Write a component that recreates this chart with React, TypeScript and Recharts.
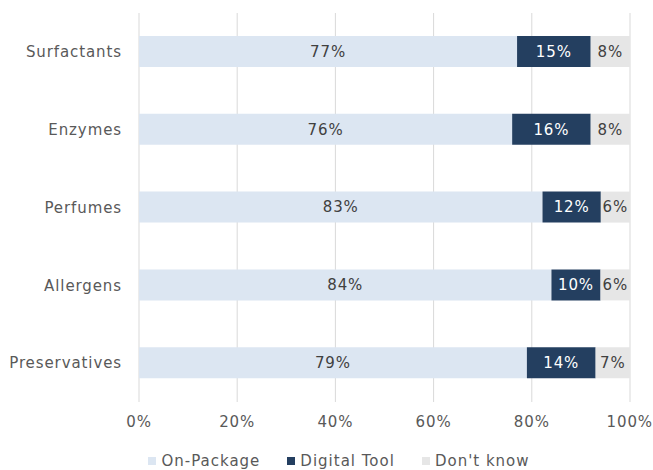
import React from "react";
import {
  Bar,
  BarChart,
  CartesianGrid,
  LabelList,
  Legend,
  XAxis,
  YAxis,
} from "recharts";

const categories = ["Surfactants", "Enzymes", "Perfumes", "Allergens", "Preservatives"];
const onPackage = [77, 76, 83, 84, 79];
const digitalTool = [15, 16, 12, 10, 14];
const dontKnow = [8, 8, 6, 6, 7];
const xTicks = [0, 0.2, 0.4, 0.6, 0.8, 1];

const COLORS = {
  onPackage: "#DCE6F2",
  digital: "#243F60",
  dontKnow: "#E6E6E6",
  grid: "#D9D9D9",
  text: "#595959",
};

const FONT = "'DejaVu Sans', Verdana, sans-serif";

// 100% stacked, like the source: each row is normalised by stackOffset="expand"
const rows = categories.map((name, i) => ({
  name,
  onPackage: onPackage[i],
  digital: digitalTool[i],
  dontKnow: dontKnow[i],
}));

const legendItems = [
  { label: "On-Package", color: COLORS.onPackage },
  { label: "Digital Tool", color: COLORS.digital },
  { label: "Don't know", color: COLORS.dontKnow },
];

function LegendContent() {
  return (
    <div
      style={{
        display: "flex",
        justifyContent: "center",
        gap: 27,
        fontFamily: FONT,
        fontSize: 15,
        letterSpacing: 1,
        color: COLORS.text,
        height: 18,
        paddingTop: 12,
        paddingLeft: 48,
        alignItems: "center",
      }}
    >
      {legendItems.map((it) => (
        <span key={it.label} style={{ display: "flex", alignItems: "center" }}>
          <span
            style={{
              width: 8,
              height: 8,
              background: it.color,
              display: "inline-block",
              marginRight: 5,
            }}
          />
          {it.label}
        </span>
      ))}
    </div>
  );
}

const pct = (v: any) => `${v}%`;
const tickPct = (v: any) => `${Math.round(v * 100)}%`;

const labelStyle = { fontFamily: FONT, fontSize: 15, letterSpacing: 0.9 };

export default function App() {
  return (
    <div style={{ position: "absolute", left: 0, top: 0, background: "#fff" }}>
      <BarChart
        width={653}
        height={470}
        data={rows}
        layout="vertical"
        stackOffset="expand"
        margin={{ top: 13, right: 23, bottom: 0, left: 0 }}
        barSize={31}
      >
        <CartesianGrid horizontal={false} stroke={COLORS.grid} />
        <XAxis
          type="number"
          domain={[0, 1]}
          ticks={xTicks}
          tickFormatter={tickPct}
          allowDataOverflow
          axisLine={false}
          tickLine={false}
          tickMargin={8}
          height={38}
          tick={{ fill: COLORS.text, ...labelStyle }}
        />
        <YAxis
          type="category"
          dataKey="name"
          width={139}
          axisLine={false}
          tickLine={false}
          tickMargin={11}
          tick={{ fill: COLORS.text, ...labelStyle }}
        />
        <Legend verticalAlign="bottom" content={<LegendContent />} />
        <Bar dataKey="onPackage" stackId="a" fill={COLORS.onPackage} isAnimationActive={false}>
          <LabelList dataKey="onPackage" position="center" formatter={pct} fill="#404040" style={labelStyle} />
        </Bar>
        <Bar dataKey="digital" stackId="a" fill={COLORS.digital} isAnimationActive={false}>
          <LabelList dataKey="digital" position="center" formatter={pct} fill="#FFFFFF" style={labelStyle} />
        </Bar>
        <Bar dataKey="dontKnow" stackId="a" fill={COLORS.dontKnow} isAnimationActive={false}>
          <LabelList dataKey="dontKnow" position="center" formatter={pct} fill="#404040" style={labelStyle} />
        </Bar>
      </BarChart>
    </div>
  );
}
